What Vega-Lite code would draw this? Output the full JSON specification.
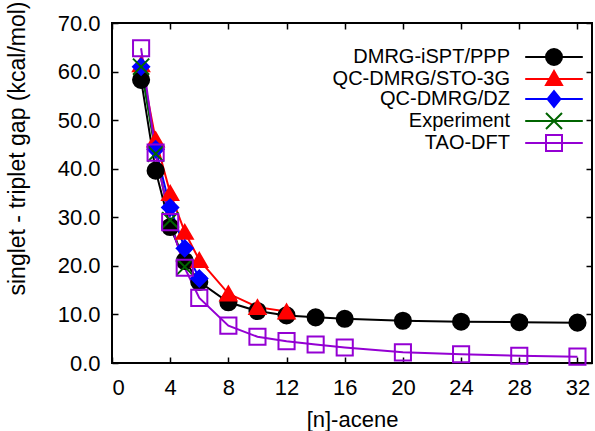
{
  "$schema": "https://vega.github.io/schema/vega-lite/v6.json",
  "width": 480,
  "height": 340,
  "autosize": {"type": "none"},
  "padding": {"left": 112, "top": 23, "right": 3, "bottom": 68},
  "background": "white",
  "config": {
    "view": {"stroke": "black", "strokeWidth": 2},
    "font": "Liberation Sans",
    "axis": {"grid": false, "domain": false, "labelFont": "Liberation Sans", "titleFont": "Liberation Sans", "labelFontSize": 22, "titleFontSize": 22, "labelColor": "black", "titleColor": "black", "titleFontWeight": "normal", "tickColor": "black", "tickWidth": 1.5, "tickSize": -6},
    "legend": {"labelFont": "Liberation Sans", "labelFontSize": 20, "labelColor": "black", "orient": "none", "legendX": 432, "legendY": 24, "padding": 0, "labelAlign": "right", "labelOffset": -54, "labelLimit": 400, "symbolSize": 256, "symbolStrokeWidth": 2, "rowPadding": -10}
  },
  "data": {"values": [
    {"series": "DMRG-iSPT/PPP", "n": 2, "gap": 58.3},
    {"series": "DMRG-iSPT/PPP", "n": 3, "gap": 39.6},
    {"series": "DMRG-iSPT/PPP", "n": 4, "gap": 28.0},
    {"series": "DMRG-iSPT/PPP", "n": 5, "gap": 21.0},
    {"series": "DMRG-iSPT/PPP", "n": 6, "gap": 16.7},
    {"series": "DMRG-iSPT/PPP", "n": 8, "gap": 12.5},
    {"series": "DMRG-iSPT/PPP", "n": 10, "gap": 10.7},
    {"series": "DMRG-iSPT/PPP", "n": 12, "gap": 9.8},
    {"series": "DMRG-iSPT/PPP", "n": 14, "gap": 9.4},
    {"series": "DMRG-iSPT/PPP", "n": 16, "gap": 9.1},
    {"series": "DMRG-iSPT/PPP", "n": 20, "gap": 8.7},
    {"series": "DMRG-iSPT/PPP", "n": 24, "gap": 8.5},
    {"series": "DMRG-iSPT/PPP", "n": 28, "gap": 8.4},
    {"series": "DMRG-iSPT/PPP", "n": 32, "gap": 8.3},
    {"series": "QC-DMRG/STO-3G", "n": 2, "gap": 61.5},
    {"series": "QC-DMRG/STO-3G", "n": 3, "gap": 46.0},
    {"series": "QC-DMRG/STO-3G", "n": 4, "gap": 35.0},
    {"series": "QC-DMRG/STO-3G", "n": 5, "gap": 27.0},
    {"series": "QC-DMRG/STO-3G", "n": 6, "gap": 21.2},
    {"series": "QC-DMRG/STO-3G", "n": 8, "gap": 14.3},
    {"series": "QC-DMRG/STO-3G", "n": 10, "gap": 11.5},
    {"series": "QC-DMRG/STO-3G", "n": 12, "gap": 10.6},
    {"series": "QC-DMRG/DZ", "n": 2, "gap": 61.0},
    {"series": "QC-DMRG/DZ", "n": 3, "gap": 44.0},
    {"series": "QC-DMRG/DZ", "n": 4, "gap": 32.0},
    {"series": "QC-DMRG/DZ", "n": 5, "gap": 23.6},
    {"series": "QC-DMRG/DZ", "n": 6, "gap": 17.4},
    {"series": "Experiment", "n": 2, "gap": 61.0},
    {"series": "Experiment", "n": 3, "gap": 43.1},
    {"series": "Experiment", "n": 4, "gap": 29.4},
    {"series": "Experiment", "n": 5, "gap": 19.8},
    {"series": "TAO-DFT", "n": 2, "gap": 64.8},
    {"series": "TAO-DFT", "n": 3, "gap": 43.3},
    {"series": "TAO-DFT", "n": 4, "gap": 29.0},
    {"series": "TAO-DFT", "n": 5, "gap": 19.6},
    {"series": "TAO-DFT", "n": 6, "gap": 13.4},
    {"series": "TAO-DFT", "n": 8, "gap": 7.7},
    {"series": "TAO-DFT", "n": 10, "gap": 5.4},
    {"series": "TAO-DFT", "n": 12, "gap": 4.5},
    {"series": "TAO-DFT", "n": 14, "gap": 3.8},
    {"series": "TAO-DFT", "n": 16, "gap": 3.2},
    {"series": "TAO-DFT", "n": 20, "gap": 2.2},
    {"series": "TAO-DFT", "n": 24, "gap": 1.8},
    {"series": "TAO-DFT", "n": 28, "gap": 1.5},
    {"series": "TAO-DFT", "n": 32, "gap": 1.3}
  ]},
  "resolve": {"axis": {"x": "independent", "y": "independent"}, "scale": {"color": "independent", "fill": "independent", "shape": "independent"}},
  "layer": [
    {
      "mark": {"type": "line", "strokeWidth": 2},
      "encoding": {
        "x": {"field": "n", "type": "quantitative", "scale": {"domain": [0, 33], "nice": false},
              "axis": {"orient": "bottom", "values": [0, 4, 8, 12, 16, 20, 24, 28, 32], "title": "[n]-acene", "labelPadding": 20, "titlePadding": 11}},
        "y": {"field": "gap", "type": "quantitative", "scale": {"domain": [0, 70], "nice": false},
              "axis": {"orient": "left", "values": [0, 10, 20, 30, 40, 50, 60, 70], "format": ".1f", "title": "singlet - triplet gap (kcal/mol)", "titleFontSize": 23, "labelPadding": 18, "titleX": -83, "titleY": 125}},
        "color": {"field": "series", "type": "nominal", "legend": null,
                  "scale": {"domain": ["DMRG-iSPT/PPP", "QC-DMRG/STO-3G", "QC-DMRG/DZ", "Experiment", "TAO-DFT"], "range": ["#000000", "#ff0000", "#0000ff", "#006400", "#9400d3"]}}
      }
    },
    {
      "mark": {"type": "point", "size": 260, "strokeWidth": 2, "opacity": 1, "filled": false},
      "encoding": {
        "x": {"field": "n", "type": "quantitative", "axis": {"orient": "top", "values": [0, 4, 8, 12, 16, 20, 24, 28, 32], "labels": false, "title": null}},
        "y": {"field": "gap", "type": "quantitative", "axis": {"orient": "right", "values": [0, 10, 20, 30, 40, 50, 60, 70], "labels": false, "title": null}},
        "color": {"field": "series", "type": "nominal", "legend": null,
                  "scale": {"domain": ["DMRG-iSPT/PPP", "QC-DMRG/STO-3G", "QC-DMRG/DZ", "Experiment", "TAO-DFT"], "range": ["#000000", "#ff0000", "#0000ff", "#006400", "#9400d3"]}},
        "fill": {"field": "series", "type": "nominal", "legend": null,
                 "scale": {"domain": ["DMRG-iSPT/PPP", "QC-DMRG/STO-3G", "QC-DMRG/DZ", "Experiment", "TAO-DFT"], "range": ["#000000", "#ff0000", "#0000ff", "transparent", "transparent"]}},
        "shape": {"field": "series", "type": "nominal", "legend": null,
                  "scale": {"domain": ["DMRG-iSPT/PPP", "QC-DMRG/STO-3G", "QC-DMRG/DZ", "Experiment", "TAO-DFT"], "range": ["circle", "triangle-up", "diamond", "M-1,-1L1,1M-1,1L1,-1", "square"]}}
      }
    },
    {
      "transform": [{"filter": {"field": "n", "lt": 0}}],
      "mark": {"type": "point", "size": 256, "strokeWidth": 2, "opacity": 1, "filled": false},
      "encoding": {
        "x": {"field": "n", "type": "quantitative", "axis": null},
        "y": {"field": "gap", "type": "quantitative", "axis": null},
        "color": {"field": "series", "type": "nominal", "legend": {"title": null},
                  "scale": {"domain": ["DMRG-iSPT/PPP", "QC-DMRG/STO-3G", "QC-DMRG/DZ", "Experiment", "TAO-DFT"], "range": ["#000000", "#ff0000", "#0000ff", "#006400", "#9400d3"]}},
        "fill": {"field": "series", "type": "nominal", "legend": {"title": null},
                 "scale": {"domain": ["DMRG-iSPT/PPP", "QC-DMRG/STO-3G", "QC-DMRG/DZ", "Experiment", "TAO-DFT"], "range": ["#000000", "#ff0000", "#0000ff", "transparent", "transparent"]}},
        "shape": {"field": "series", "type": "nominal", "legend": {"title": null},
                  "scale": {"domain": ["DMRG-iSPT/PPP", "QC-DMRG/STO-3G", "QC-DMRG/DZ", "Experiment", "TAO-DFT"], "range": ["M-3.6,0H3.6M-1,0A1,1 0 1,1 1,0A1,1 0 1,1 -1,0Z", "M-3.6,0H3.6M0,-1L1,0.75L-1,0.75Z", "M-3.6,0H3.6M0,-1L0.8,0L0,1L-0.8,0Z", "M-3.6,0H3.6M-1,-1L1,1M-1,1L1,-1", "M-3.6,0H3.6M-1,-1H1V1H-1Z"]}}
      }
    }
  ]
}
